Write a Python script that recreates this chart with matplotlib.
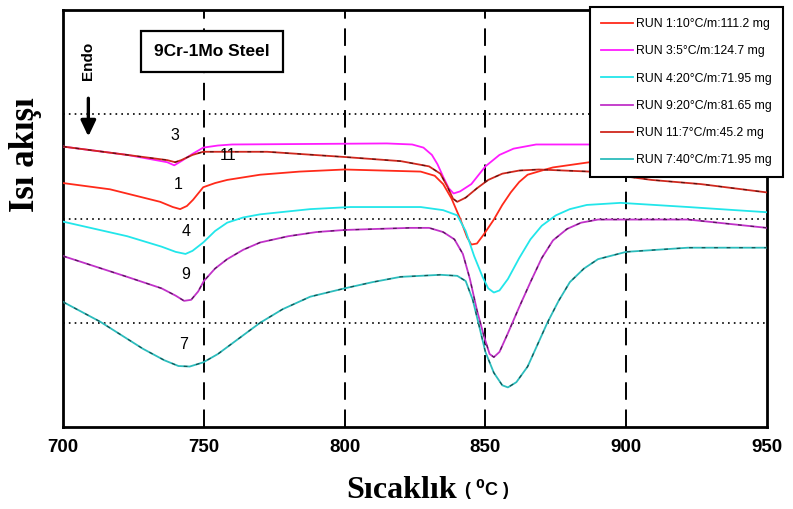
import matplotlib
matplotlib.use("Agg")
import matplotlib.pyplot as plt

# temperature (C) and heat flow (arbitrary units)
t_run3 = [700, 722.8, 737, 739.5, 742, 746, 749.8, 755, 760, 815, 824, 828, 831, 833, 835, 837, 838.7, 841, 845, 850, 855, 860, 868, 886, 950]
q_run3 = [2.69, 2.61, 2.54, 2.51, 2.55, 2.62, 2.68, 2.70, 2.71, 2.72, 2.71, 2.68, 2.61, 2.52, 2.40, 2.29, 2.24, 2.26, 2.33, 2.50, 2.61, 2.67, 2.71, 2.71, 2.70]

t_run11 = [700, 722.8, 737, 739.8, 742, 746, 749.8, 772.5, 800, 820, 830, 834, 836.6, 838.5, 840, 843, 847, 851, 856, 862, 869, 887, 909, 926.5, 950]
q_run11 = [2.69, 2.61, 2.56, 2.54, 2.56, 2.61, 2.64, 2.64, 2.59, 2.55, 2.50, 2.43, 2.30, 2.19, 2.16, 2.20, 2.29, 2.37, 2.43, 2.46, 2.47, 2.45, 2.37, 2.33, 2.25]

t_run1 = [700, 716.7, 734.5, 739, 741.6, 744, 746.2, 749.8, 754, 758.3, 770, 784, 800, 827, 832, 835, 838, 841, 843.5, 845, 847, 849.5, 853, 856, 859, 862, 865, 870, 874, 887, 950]
q_run1 = [2.34, 2.28, 2.16, 2.11, 2.09, 2.12, 2.18, 2.30, 2.34, 2.37, 2.42, 2.45, 2.47, 2.45, 2.41, 2.33, 2.19, 2.00, 1.82, 1.75, 1.76, 1.85, 1.99, 2.13, 2.25, 2.35, 2.42, 2.46, 2.49, 2.54, 2.54]

t_run4 = [700, 722.8, 735, 740, 743.5, 746, 749.8, 754, 758.3, 764, 770, 787.8, 802, 827, 835, 840, 843, 846, 849, 851, 853, 855, 858, 862, 866, 870, 875, 880, 886, 898, 922, 950]
q_run4 = [1.97, 1.83, 1.73, 1.68, 1.66, 1.69, 1.77, 1.88, 1.96, 2.01, 2.04, 2.09, 2.11, 2.11, 2.08, 2.03, 1.88, 1.64, 1.44, 1.33, 1.29, 1.31, 1.42, 1.62, 1.80, 1.93, 2.03, 2.09, 2.13, 2.15, 2.11, 2.06]

t_run9 = [700, 722.8, 735, 740, 743, 745.5, 748, 750, 754, 758.3, 764, 770, 780, 790, 800, 823, 830, 835, 839, 842, 844.5, 847, 849.5, 851.5, 853, 855, 858, 862, 866, 870, 874, 879, 884, 890, 922, 950]
q_run9 = [1.64, 1.44, 1.33, 1.26, 1.21, 1.22, 1.30, 1.40, 1.52, 1.61, 1.70, 1.77, 1.83, 1.87, 1.89, 1.91, 1.91, 1.87, 1.80, 1.66, 1.42, 1.12, 0.87, 0.70, 0.67, 0.72, 0.90, 1.15, 1.39, 1.62, 1.79, 1.90, 1.96, 1.99, 1.99, 1.91]

t_run7 = [700, 713.2, 728.4, 736, 741, 745, 749.8, 755, 761, 770, 778, 787.8, 800, 810, 819.8, 834, 840, 843, 845.5, 847.5, 850, 853, 856, 858, 861, 865, 872, 876, 880, 885, 890, 900, 922, 950]
q_run7 = [1.20, 1.01, 0.75, 0.64, 0.585, 0.58, 0.62, 0.70, 0.82, 1.00, 1.13, 1.25, 1.33, 1.39, 1.44, 1.46, 1.45, 1.40, 1.22, 1.00, 0.72, 0.52, 0.40, 0.38, 0.43, 0.58, 1.00, 1.21, 1.39, 1.52, 1.61, 1.68, 1.72, 1.72]

labels = ["RUN 1:10\u00b0C/m:111.2 mg", "RUN 3:5\u00b0C/m:124.7 mg", "RUN 4:20\u00b0C/m:71.95 mg",
          "RUN 9:20\u00b0C/m:81.65 mg", "RUN 11:7\u00b0C/m:45.2 mg", "RUN 7:40\u00b0C/m:71.95 mg"]
run_names = ["3", "11", "1", "4", "9", "7"]
name_t = [739.8, 758.7, 740.9, 743.7, 743.7, 742.7]
name_q = [2.80, 2.60, 2.33, 1.88, 1.46, 0.79]
x_ticks = [700, 750, 800, 850, 900, 950]

fig = plt.figure(figsize=(7.93, 5.09), dpi=100)
ax = fig.add_axes([63 / 793, 1 - 427 / 509, 704 / 793, 417 / 509])

for x in [750, 800, 850, 900]:
    ax.axvline(x, color="k", lw=1.4, dashes=(9, 5), zorder=1)
for y in [1, 2, 3]:
    ax.axhline(y, color="k", lw=1.2, ls=(0, (1, 2.5)), zorder=1)

l1, = ax.plot(t_run1, q_run1, color="#ff2a1a", lw=1.3, zorder=3)
l3, = ax.plot(t_run3, q_run3, color="#ff1cff", lw=1.3, zorder=3)
l4, = ax.plot(t_run4, q_run4, color="#22e6ea", lw=1.3, zorder=3)
l9, = ax.plot(t_run9, q_run9, color="#c032c8", lw=1.3, zorder=3)
l11, = ax.plot(t_run11, q_run11, color="#d0281e", lw=1.3, zorder=3)
l7, = ax.plot(t_run7, q_run7, color="#2cbcbc", lw=1.3, zorder=3)
# dark overlay seen on the older runs
for t, q in [(t_run9, q_run9), (t_run11, q_run11), (t_run7, q_run7)]:
    ax.plot(t, q, color="k", lw=0.9, dashes=(3, 7), alpha=0.55, zorder=4)

for name, t, q in zip(run_names, name_t, name_q):
    ax.text(t, q, name, fontsize=11.5, ha="center", va="center", family="Liberation Sans", zorder=5)

ax.text(0.212, 0.9, "9Cr-1Mo Steel", transform=ax.transAxes, ha="center", va="center",
        fontsize=12.5, fontweight="bold", family="Liberation Sans",
        bbox=dict(boxstyle="square,pad=0.75", fc="white", ec="k", lw=1.6), zorder=6)

ax.text(0.036, 0.878, "Endo", transform=ax.transAxes, rotation=90, ha="center", va="center",
        fontsize=11, fontweight="bold", family="Liberation Sans")
ax.annotate("", xy=(0.036, 0.69), xytext=(0.036, 0.795), xycoords="axes fraction",
            arrowprops=dict(arrowstyle="-|>,head_width=0.45,head_length=0.95", color="k", lw=2.4))

ax.set_xlim(700, 950)
ax.set_ylim(0, 4)
ax.set_xticks(x_ticks)
ax.set_xticklabels([str(v) for v in x_ticks], fontsize=13.5, fontweight="bold", family="Liberation Sans")
ax.set_yticks([])
ax.tick_params(axis="x", length=0, pad=9)
for s in ax.spines.values():
    s.set_linewidth(2)

fig.text(25 / 793, 1 - 155 / 509, "Is\u0131 ak\u0131\u015f\u0131", rotation=90, ha="center", va="center",
         fontsize=25, fontweight="bold", family="Liberation Serif")
fig.text(457 / 793, 1 - 490 / 509, "S\u0131cakl\u0131k", ha="right", va="center",
         fontsize=23, fontweight="bold", family="Liberation Serif")
fig.text(464 / 793, 1 - 490 / 509, "( $^{\\mathbf{0}}$C )", ha="left", va="center",
         fontsize=13, fontweight="bold", family="Liberation Sans")

leg = ax.legend([l1, l3, l4, l9, l11, l7], labels, loc="upper right",
                bbox_to_anchor=(783 / 793, 1 - 7 / 509), bbox_transform=fig.transFigure,
                borderaxespad=0, fancybox=False, framealpha=1, edgecolor="k",
                handlelength=2.6, labelspacing=1.25, borderpad=0.9, handletextpad=0.3,
                prop=dict(family="Liberation Sans", size=8.8))
leg.get_frame().set_linewidth(1.5)
leg.set_zorder(10)

fig.savefig("out.png", dpi=100)
